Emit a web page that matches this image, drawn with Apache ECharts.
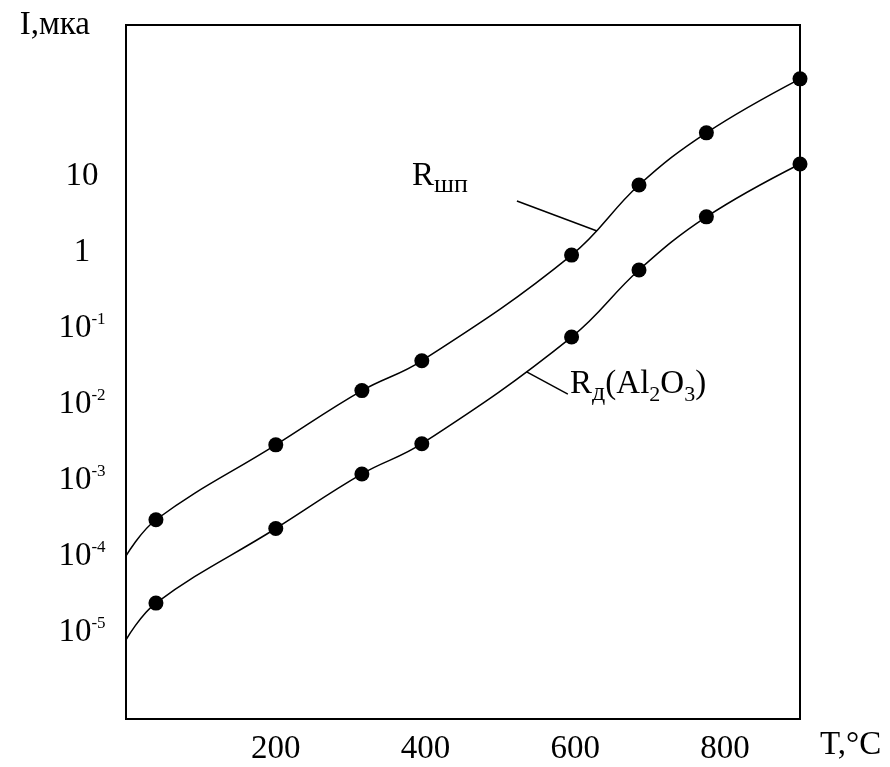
<!DOCTYPE html>
<html>
<head>
<meta charset="utf-8">
<script src="https://cdn.jsdelivr.net/npm/echarts@6/dist/echarts.min.js"></script>
<style>
  html, body {margin: 0; padding: 0; background: #fff;}
  #chart {width: 890px; height: 767px;}
</style>
</head>
<body>
<div id="chart"></div>
<script>
// температура, °C
const temps = [40, 200, 315, 395, 595, 685, 775, 900];
// ток, мкА
const currentShp = [3.0e-4, 2.9e-3, 1.5e-2, 3.7e-2, 0.91, 7.6, 37, 190];
const currentD = [2.4e-5, 2.3e-4, 1.2e-3, 3.0e-3, 7.6e-2, 0.58, 2.9, 14.4];
// начало кривых при T = 0
const startShp = 1.0e-4;
const startD = 7.9e-6;

const xTickLabels = [200, 400, 600, 800];
const yTickLabels = [1e-5, 1e-4, 1e-3, 1e-2, 1e-1, 1, 10];

const fontFamily = '"Liberation Serif", "Times New Roman", serif';
const richText = {
  b: {fontSize: 33, lineHeight: 33, padding: [0, 0, 6, 0], verticalAlign: 'bottom', color: '#000', fontFamily: fontFamily},
  s: {fontSize: 26, lineHeight: 26, verticalAlign: 'bottom', color: '#000', fontFamily: fontFamily},
  n: {fontSize: 22, lineHeight: 22, verticalAlign: 'bottom', color: '#000', fontFamily: fontFamily}
};

function buildData(startValue, values) {
  const data = [{value: [0, startValue], symbol: 'none'}];
  temps.forEach((t, i) => data.push([t, values[i]]));
  return data;
}

function labelPoint(coord, text) {
  return {
    symbol: 'circle',
    symbolSize: 0,
    silent: true,
    label: {show: true, position: 'right', distance: 0, formatter: text, rich: richText},
    data: [{coord: coord}]
  };
}

const lineStyle = {color: '#000', width: 1.5};

const option = {
  animation: false,
  backgroundColor: '#fff',
  grid: {left: 126, right: 90, top: 25, bottom: 48, show: true, borderColor: '#000', borderWidth: 2},
  xAxis: {
    type: 'value',
    min: 0,
    max: 900,
    name: 'T,°C',
    nameLocation: 'end',
    nameGap: 20,
    nameTextStyle: {color: '#000', fontSize: 33, fontFamily: fontFamily, verticalAlign: 'top', padding: [10, 0, 0, 0]},
    axisLine: {show: false},
    axisTick: {show: false},
    splitLine: {show: false},
    axisLabel: {
      customValues: xTickLabels,
      color: '#000',
      fontSize: 33,
      fontFamily: fontFamily,
      margin: 14
    }
  },
  yAxis: {
    type: 'log',
    min: Math.pow(10, -6.145),
    max: Math.pow(10, 2.987),
    name: 'I,мка',
    nameLocation: 'end',
    nameGap: -17,
    nameTextStyle: {color: '#000', fontSize: 33, fontFamily: fontFamily, align: 'right', padding: [0, 36, 0, 0]},
    axisLine: {show: false},
    axisTick: {show: false},
    splitLine: {show: false},
    axisLabel: {
      customValues: yTickLabels,
      align: 'center',
      margin: 44,
      color: '#000',
      fontSize: 33,
      fontFamily: fontFamily,
      formatter: function (value) {
        const e = Math.round(Math.log10(value));
        if (e >= 0) return String(Math.pow(10, e));
        return '10{sup|' + e + '}';
      },
      rich: {
        sup: {fontSize: 17, verticalAlign: 'top', color: '#000', fontFamily: fontFamily}
      }
    }
  },
  series: [
    {
      name: 'Rшп',
      type: 'line',
      smooth: 0.4,
      symbol: 'circle',
      symbolSize: 15,
      itemStyle: {color: '#000'},
      lineStyle: lineStyle,
      data: buildData(startShp, currentShp),
      markLine: {
        symbol: 'none',
        silent: true,
        label: {show: false},
        lineStyle: {color: '#000', width: 1.5, type: 'solid'},
        data: [[{coord: [522, 4.69]}, {coord: [629, 1.89]}]]
      },
      markPoint: labelPoint([382, 8.34], '{b|R}{s|шп}')
    },
    {
      name: 'Rд(Al2O3)',
      type: 'line',
      smooth: 0.4,
      symbol: 'circle',
      symbolSize: 15,
      itemStyle: {color: '#000'},
      lineStyle: lineStyle,
      data: buildData(startD, currentD),
      markLine: {
        symbol: 'none',
        silent: true,
        label: {show: false},
        lineStyle: {color: '#000', width: 1.5, type: 'solid'},
        data: [[{coord: [535, 0.0264]}, {coord: [590, 0.0135]}]]
      },
      markPoint: labelPoint([593, 0.0153], '{b|R}{s|д}{b|(Al}{n|2}{b|O}{n|3}{b|)}')
    }
  ]
};

const chart = echarts.init(document.getElementById('chart'));
chart.setOption(option);
</script>
</body>
</html>
